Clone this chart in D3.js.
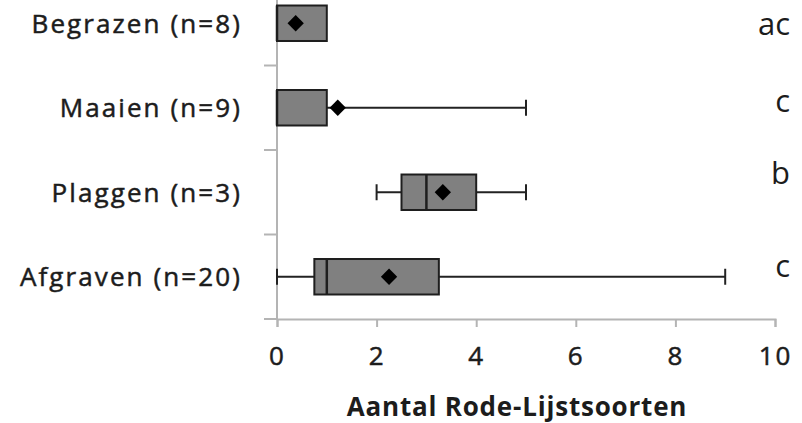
<!DOCTYPE html>
<html>
<head>
<meta charset="utf-8">
<script src="https://cdn.jsdelivr.net/npm/d3@7"></script>
<style>
  html, body { margin: 0; padding: 0; background: #fff; }
  svg { display: block; }
  text { font-family: "Open Sans", Lato, sans-serif; fill: #1c1c1c; }
</style>
</head>
<body>
<svg id="chart" width="802" height="423"></svg>
<script>
// Treatments, top to bottom
const categories = ["Begrazen (n=8)", "Maaien (n=9)", "Plaggen (n=3)", "Afgraven (n=20)"];
// Five-number summaries and means of the number of Red List species
const minima   = [0, 0, 2, 0];
const q1       = [0, 0, 2.5, 0.75];
const medians  = [0, 0, 3, 1];
const q3       = [1, 1, 4, 3.25];
const maxima   = [1, 5, 5, 9];
const means    = [0.375, 1.22, 3.33, 2.25];
// Significance groups
const groups   = ["ac", "c", "b", "c"];
const xTicks   = [0, 2, 4, 6, 8, 10];
const xTitle   = "Aantal Rode-Lijstsoorten";

const svg = d3.select("#chart");

const x = d3.scaleLinear().domain([0, 10]).range([277, 775]);
const y = d3.scaleBand().domain(categories).range([-19, 319]).padding(0);

const rows = categories.map((c, i) => ({
  cat: c, min: minima[i], q1: q1[i], med: medians[i], q3: q3[i], max: maxima[i], mean: means[i], grp: groups[i]
}));

const axisGrey = "#b4b4b4";
const ink = "#1c1c1c";
const boxH = y.bandwidth() * 0.42;
const capH = 16;

// Category axis: line plus outward ticks at band boundaries
svg.append("line")
  .attr("x1", x(0)).attr("x2", x(0))
  .attr("y1", y.range()[0]).attr("y2", y.range()[1])
  .attr("stroke", axisGrey).attr("stroke-width", 2);
const bounds = categories.map(c => y(c)).concat([y.range()[1]]);
svg.selectAll(".ytick").data(bounds).join("line")
  .attr("class", "ytick")
  .attr("x1", x(0) - 13).attr("x2", x(0))
  .attr("y1", d => d).attr("y2", d => d)
  .attr("stroke", axisGrey).attr("stroke-width", 2);

// Value axis
const xAxis = d3.axisBottom(x).tickValues(xTicks).tickSize(8).tickPadding(20).tickFormat(d3.format("d"));
const gx = svg.append("g").attr("transform", `translate(0,${y.range()[1]})`).call(xAxis);
gx.select(".domain").attr("stroke", axisGrey).attr("stroke-width", 2);
gx.selectAll(".tick line").attr("stroke", axisGrey).attr("stroke-width", 2);
gx.selectAll(".tick text").attr("font-size", 26).attr("fill", ink)
  .attr("stroke", ink).attr("stroke-width", 0.5)
  .attr("letter-spacing", 2)
  .attr("font-family", "'Open Sans', Lato, sans-serif");

// Category labels
svg.selectAll(".catlabel").data(rows).join("text")
  .attr("class", "catlabel")
  .attr("x", 242)
  .attr("y", d => y(d.cat) + y.bandwidth() / 2)
  .attr("dy", "0.36em")
  .attr("text-anchor", "end")
  .attr("font-size", 26)
  .attr("stroke", ink).attr("stroke-width", 0.5)
  .attr("letter-spacing", 2.1)
  .text(d => d.cat);

// Axis title
svg.append("text")
  .attr("x", 517)
  .attr("y", 416)
  .attr("text-anchor", "middle")
  .attr("font-size", 26)
  .attr("font-weight", "bold")
  .attr("letter-spacing", 0.8)
  .text(xTitle);

const g = svg.selectAll(".box").data(rows).join("g").attr("class", "box")
  .attr("transform", d => `translate(0,${y(d.cat) + y.bandwidth() / 2})`);

// Whiskers
g.filter(d => d.min < d.q1).append("line")
  .attr("x1", d => x(d.min)).attr("x2", d => x(d.q1)).attr("y1", 0).attr("y2", 0)
  .attr("stroke", "#222").attr("stroke-width", 2);
g.filter(d => d.min < d.q1).append("line")
  .attr("x1", d => x(d.min)).attr("x2", d => x(d.min)).attr("y1", -capH / 2).attr("y2", capH / 2)
  .attr("stroke", "#222").attr("stroke-width", 2);
g.filter(d => d.max > d.q3).append("line")
  .attr("x1", d => x(d.q3)).attr("x2", d => x(d.max)).attr("y1", 0).attr("y2", 0)
  .attr("stroke", "#222").attr("stroke-width", 2);
g.filter(d => d.max > d.q3).append("line")
  .attr("x1", d => x(d.max)).attr("x2", d => x(d.max)).attr("y1", -capH / 2).attr("y2", capH / 2)
  .attr("stroke", "#222").attr("stroke-width", 2);

// Boxes
g.append("rect")
  .attr("x", d => x(d.q1)).attr("width", d => x(d.q3) - x(d.q1))
  .attr("y", -boxH / 2).attr("height", boxH)
  .attr("fill", "#808080").attr("stroke", "#1e1e1e").attr("stroke-width", 2);

// Medians
g.append("line")
  .attr("x1", d => x(d.med)).attr("x2", d => x(d.med))
  .attr("y1", -boxH / 2).attr("y2", boxH / 2)
  .attr("stroke", "#1e1e1e").attr("stroke-width", 2.5);

// Means
const diamond = d3.symbol().type(d3.symbolDiamond2).size(170);
g.append("path")
  .attr("d", diamond)
  .attr("transform", d => `translate(${x(d.mean)},0)`)
  .attr("fill", "#000");

// Significance letters
const letterNudge = [12, 4.5, -8, 0];
svg.selectAll(".grp").data(rows).join("text")
  .attr("class", "grp")
  .attr("x", 790)
  .attr("y", (d, i) => y(d.cat) + y.bandwidth() / 2 + letterNudge[i])
  .attr("text-anchor", "end")
  .attr("font-size", 31)
  .text(d => d.grp);
</script>
</body>
</html>
